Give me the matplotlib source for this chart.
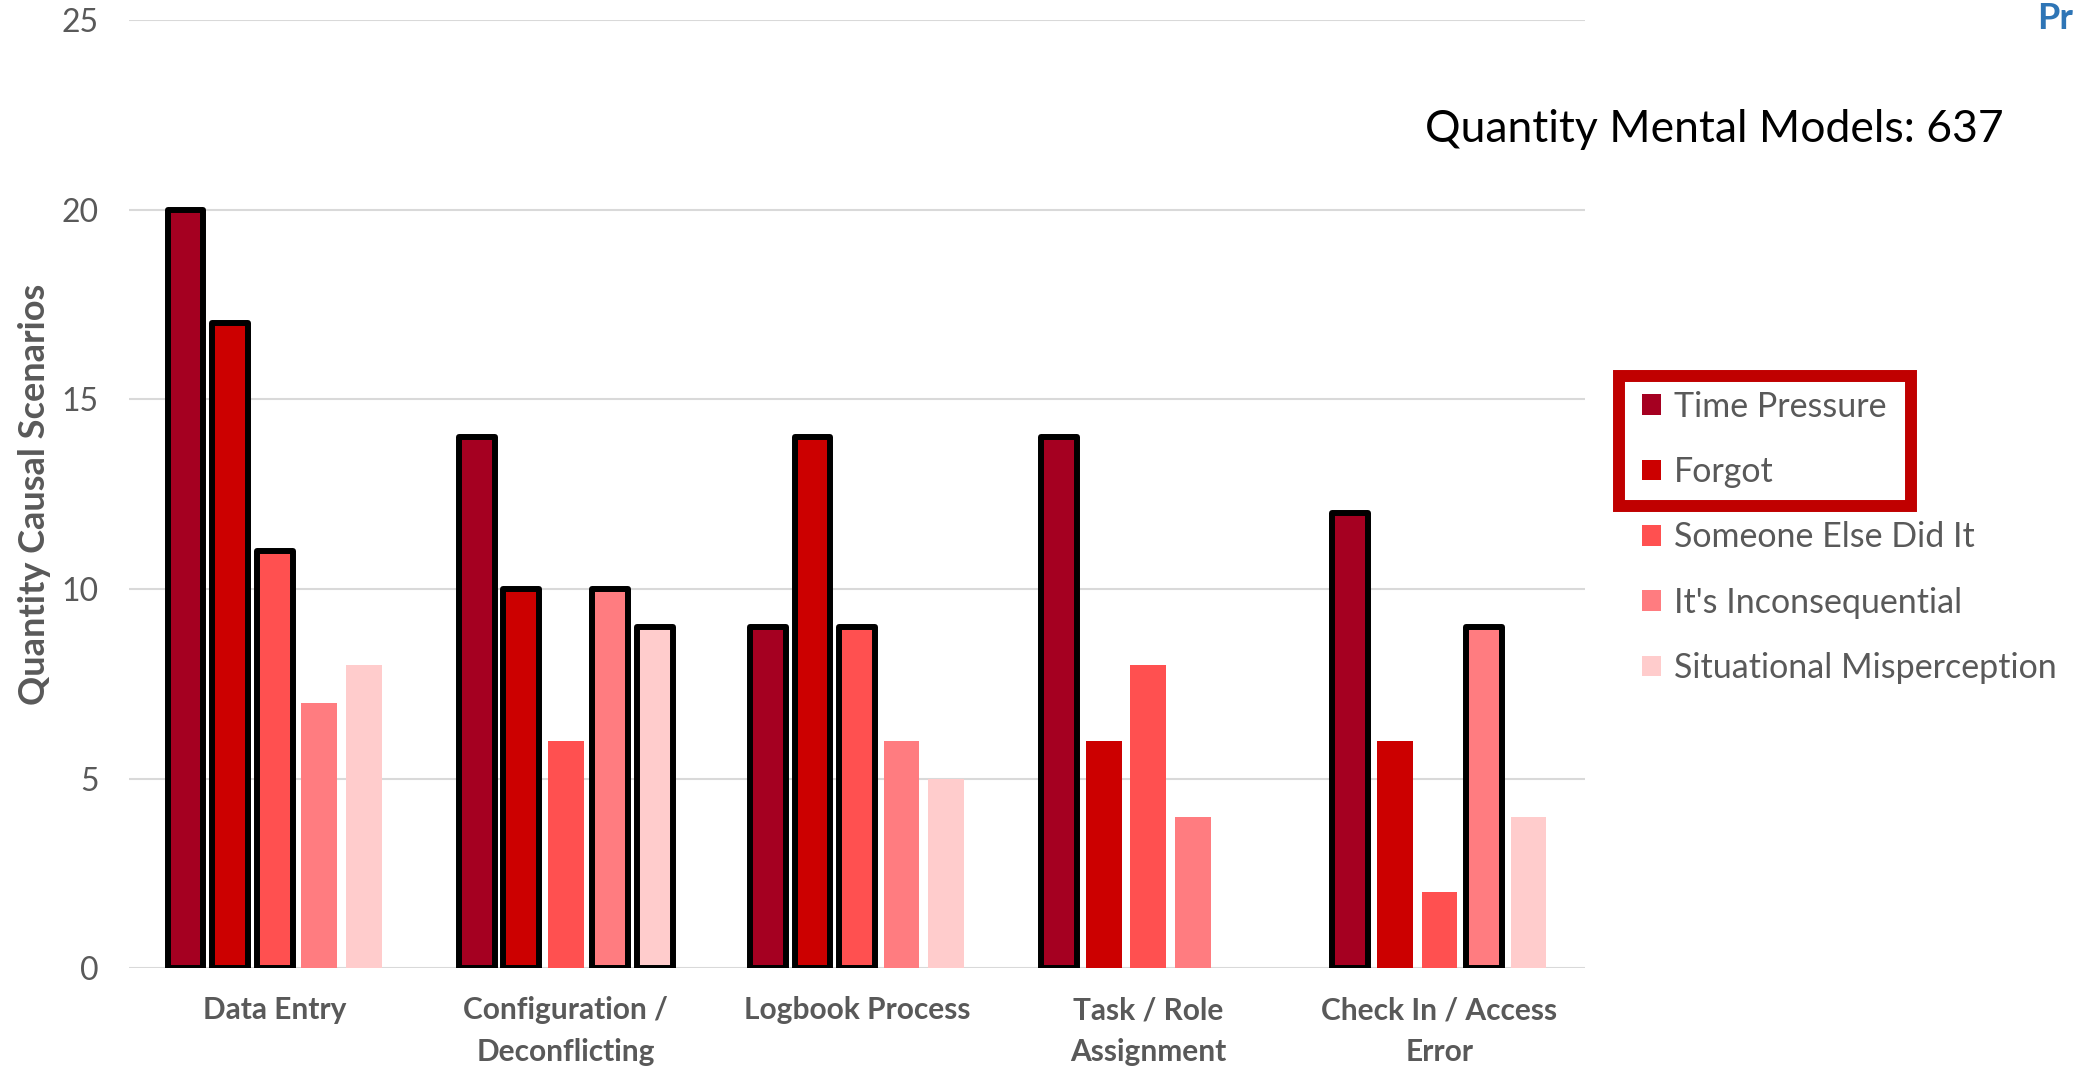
import matplotlib
matplotlib.use("Agg")
import matplotlib.pyplot as plt
from matplotlib.patches import Patch, Rectangle
import numpy as np

plt.rcParams['font.family'] = ['Lato', 'DejaVu Sans']

# 数据
categories = ['Data Entry', 'Configuration /\nDeconflicting', 'Logbook Process',
              'Task / Role\nAssignment', 'Check In / Access\nError']
series = ['Time Pressure', 'Forgot', 'Someone Else Did It',
          "It's Inconsequential", 'Situational Misperception']
colors = ['#A50021', '#CC0000', '#FF5050', '#FF7C80', '#FFCCCC']

time_pressure = [20, 14, 9, 14, 12]
forgot = [17, 10, 14, 6, 6]
someone_else = [11, 6, 9, 8, 2]
inconsequential = [7, 10, 6, 4, 9]
misperception = [8, 9, 5, 0, 4]
values = [time_pressure, forgot, someone_else, inconsequential, misperception]

# 每个系列里哪些柱子加黑框（按类别）
outlined = [
    [True, True, True, True, True],
    [True, True, True, False, False],
    [True, False, True, False, False],
    [False, True, False, False, True],
    [False, True, False, False, False],
]

total_models = 637

fig = plt.figure(figsize=(20.85, 10.68), dpi=100)
ax = fig.add_axes([0.0619, 0.0934, 0.6983, 0.8879])

x = np.arange(len(categories))
pitch = 0.153
width = 0.123
for j, (name, vals, col) in enumerate(zip(series, values, colors)):
    pos = x + (j - 2) * pitch
    for i in range(len(categories)):
        if vals[i] == 0:
            continue
        if outlined[j][i]:
            ax.bar(pos[i], vals[i], width, color=col, edgecolor='black',
                   linewidth=4.3, joinstyle='round', zorder=3)
        else:
            ax.bar(pos[i], vals[i], width, color=col, linewidth=0, zorder=3)

ax.set_xlim(-0.5, 4.5)
ax.set_ylim(0, 25)
ax.set_yticks([0, 5, 10, 15, 20, 25])
ax.yaxis.grid(True, color='#D9D9D9', linewidth=1.5, zorder=0)
ax.set_axisbelow(True)
for s in ax.spines.values():
    s.set_visible(False)
ax.tick_params(axis='both', length=0)
ax.tick_params(axis='y', labelsize=23, labelcolor='#595959', pad=22)
ax.set_xticks(x)
ax.set_xticklabels(categories, fontsize=21.5, fontweight='bold', color='#595959',
                   linespacing=1.6)
ax.tick_params(axis='x', pad=20)
ax.set_ylabel('Quantity Causal Scenarios', fontsize=26, fontweight='bold',
              color='#595959', va='center')
ax.yaxis.set_label_coords(-0.065, 0.5)

# 图例
handles = [Patch(facecolor=c, edgecolor='none') for c in colors]
fig.legend(handles, series, loc='upper left', bbox_to_anchor=(0.781, 0.647),
           frameon=False, fontsize=24.5, labelcolor='#595959',
           handlelength=0.55, handleheight=0.55, handletextpad=0.4,
           labelspacing=0.98, borderaxespad=0)

# 红框
fig.add_artist(Rectangle((1619 / 2085, 1 - 506 / 1068), 292 / 2085, 130 / 1068,
                         transform=fig.transFigure, fill=False,
                         edgecolor='#C00000', linewidth=8.6))

fig.text(0.961, 0.879, 'Quantity Mental Models: ' + str(total_models),
         fontsize=32, ha='right', va='center', color='black')
fig.text(0.977, 0.983, 'Pr', fontsize=26, fontweight='bold', color='#2E75B6',
         ha='left', va='center')

fig.savefig('out.png', dpi=100)
